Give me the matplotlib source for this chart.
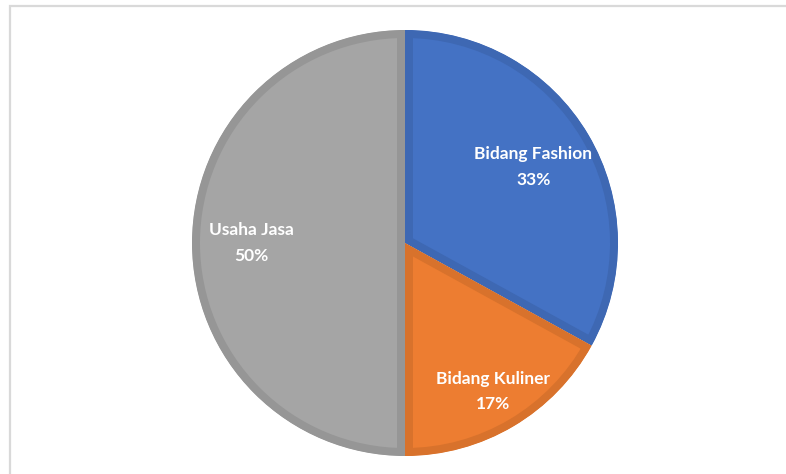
import matplotlib
matplotlib.use("Agg")
import matplotlib.pyplot as plt
from matplotlib.patches import Wedge, Rectangle
import numpy as np

categories = ["Bidang Fashion", "Bidang Kuliner", "Usaha Jasa"]
values = [33, 17, 50]
colors = ["#4472C4", "#ED7D31", "#A5A5A5"]
edge_colors = ["#3E68B3", "#D8722C", "#969696"]
label_radius = [0.70, 0.81, 0.72]

W, H = 786, 474
fig = plt.figure(figsize=(W / 100, H / 100), dpi=100)
ax = fig.add_axes([0, 0, 1, 1])

cx, cy, r = 405, H - 243, 213

wedges, _ = ax.pie(values, colors=colors, startangle=90, counterclock=False,
                   center=(cx, cy), radius=r, frame=True,
                   wedgeprops=dict(linewidth=0))
for w, ec in zip(wedges, edge_colors):
    w.set_edgecolor(ec)
    w.set_linewidth(11.5)
    clip = Wedge(w.center, w.r, w.theta1, w.theta2, transform=ax.transData)
    w.set_clip_on(True)
    w.set_clip_path(clip)

ax.set_xlim(0, W)
ax.set_ylim(0, H)
ax.set_aspect("equal")
ax.axis("off")

total = sum(values)
start = 90.0
for cat, v, lr in zip(categories, values, label_radius):
    span = 360.0 * v / total
    mid = np.deg2rad(start - span / 2)
    start -= span
    x = cx + lr * r * np.cos(mid)
    y = cy + lr * r * np.sin(mid)
    ax.text(x, y, f"{cat}\n{v/total*100:.0f}%", ha="center", va="center",
            color="white", fontweight="bold", fontsize=12.5, family="Lato",
            linespacing=1.75)

ax.add_patch(Rectangle((10, -100), 900, H - 6 + 100, fill=False,
                       edgecolor="#D9D9D9", linewidth=1.6, clip_on=False))

fig.savefig("out.png", dpi=100)
